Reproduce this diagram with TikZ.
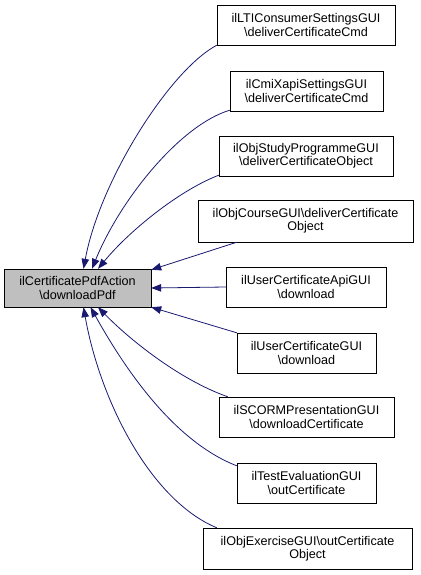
\documentclass[tikz,border=0pt]{standalone}
\usepackage{fontspec}
\setmainfont{Liberation Sans}
\usetikzlibrary{arrows.meta, positioning}

\definecolor{edgeblue}{RGB}{25,25,112}
\definecolor{maingray}{RGB}{191,191,191}

\begin{document}
\begin{tikzpicture}[
    x=1pt, y=-1pt,
    box/.style = {
        draw=black,
        fill=white,
        align=center,
        font=\fontsize{12.6}{13.2}\selectfont,
        minimum height=40pt,
        inner sep=0pt
    },
    mainbox/.style = {
        box,
        fill=maingray,
        minimum height=38pt
    },
    arrow/.style = {-{Triangle[length=10pt, width=7.5pt]}, draw=edgeblue, line width=0.8pt}
]

\useasboundingbox (0,0) rectangle (420,575);

%% -- Nodos -------------------------------------------------------------------

\node[mainbox, minimum width=147pt] (pdf) at (77.5,288) {ilCertificatePdfAction\\\textbackslash downloadPdf};

\node[box, minimum width=178pt] (lti)    at (306,25)    {ilLTIConsumerSettingsGUI\\\textbackslash deliverCertificateCmd};
\node[box, minimum width=153pt] (cmi)    at (306.5,91)  {ilCmiXapiSettingsGUI\\\textbackslash deliverCertificateCmd};
\node[box, minimum width=174pt] (study)  at (306,156)   {ilObjStudyProgrammeGUI\\\textbackslash deliverCertificateObject};
\node[box, minimum width=215pt, minimum height=42pt] (course) at (305.5,221) {ilObjCourseGUI\textbackslash deliverCertificate\\Object};
\node[box, minimum width=160pt] (api)    at (306,287)   {ilUserCertificateApiGUI\\\textbackslash download};
\node[box, minimum width=139pt] (user)   at (306.5,353) {ilUserCertificateGUI\\\textbackslash download};
\node[box, minimum width=175pt] (scorm)  at (306.5,417) {ilSCORMPresentationGUI\\\textbackslash downloadCertificate};
\node[box, minimum width=139pt] (test)   at (306.5,483) {ilTestEvaluationGUI\\\textbackslash outCertificate};
\node[box, minimum width=209pt, minimum height=41pt] (exer) at (307.5,548.5) {ilObjExerciseGUI\textbackslash outCertificate\\Object};

%% -- Flechas -----------------------------------------------------------------

\draw[arrow] (lti.south west)  .. controls (170,70) and (100,180) .. ([xshift=6pt]pdf.north);
\draw[arrow] ([yshift=1pt]cmi.south west) .. controls (180,125) and (120,200) .. ([xshift=14.5pt]pdf.north);
\draw[arrow] ([yshift=1pt]study.south west) .. controls (180,190) and (130,230) .. ([xshift=20.5pt]pdf.north);
\draw[arrow] ([xshift=39pt]course.south west) -- ([yshift=-1pt]pdf.north east);
\draw[arrow] (api.west) -- (pdf.east);
\draw[arrow] (user.north west) -- (pdf.south east);
\draw[arrow] ([xshift=9pt]scorm.north west) .. controls (180,380) and (130,340) .. ([xshift=20.5pt]pdf.south);
\draw[arrow] ([yshift=-3pt]test.north west) .. controls (170,440) and (120,360) .. ([xshift=13pt]pdf.south);
\draw[arrow] ([xshift=14pt]exer.north west) .. controls (150,500) and (100,400) .. ([xshift=6pt]pdf.south);

\end{tikzpicture}
\end{document}
